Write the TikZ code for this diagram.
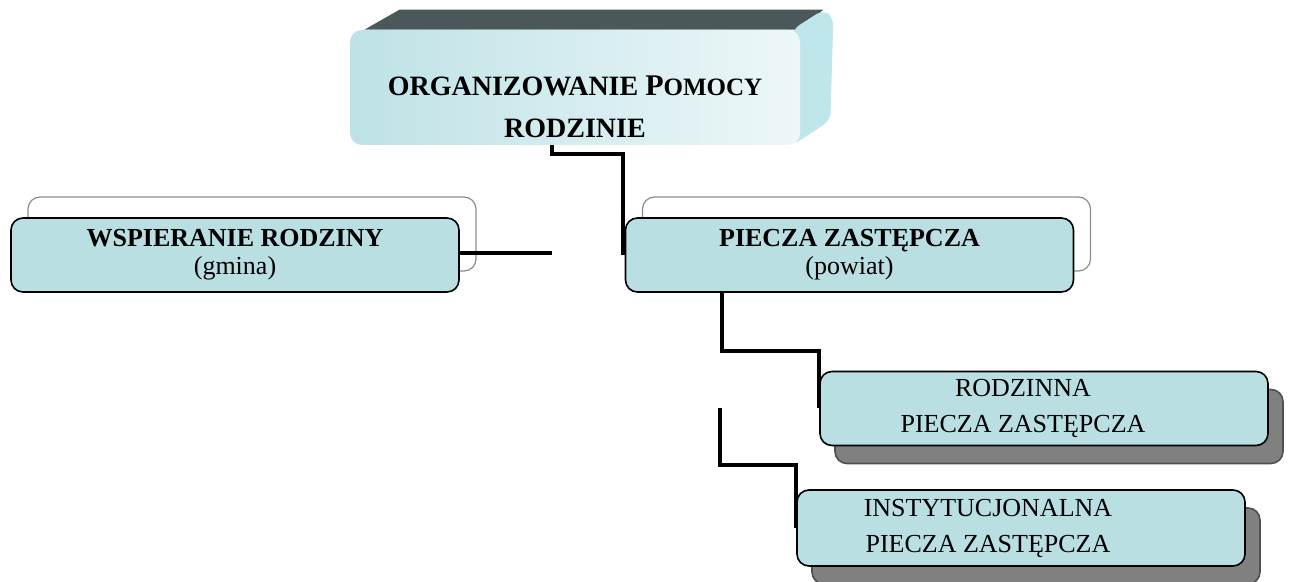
\documentclass[tikz,border=0pt]{standalone}
\usepackage{fontspec}
\setmainfont{Liberation Serif}
\usetikzlibrary{positioning,shadows,backgrounds}
\definecolor{boxfill}{HTML}{B9DFE2}
\definecolor{backline}{HTML}{8C8C8C}
\definecolor{shadowgray}{HTML}{808080}
\definecolor{shadowline}{HTML}{505050}
\definecolor{titleA}{HTML}{BEE2E6}
\definecolor{titleB}{HTML}{EDF7F8}
\definecolor{topface}{HTML}{4B5859}
\definecolor{sideface}{HTML}{BFE6EA}

\begin{document}
\begin{tikzpicture}[x=0.5pt,y=-0.5pt,
    box/.style={draw=black, line width=0.8pt, rounded corners=6pt, fill=boxfill, minimum width=224pt, minimum height=37pt, align=center, inner sep=2pt, font=\fontsize{13}{14}\selectfont},
    backbox/.style={box, copy shadow={shadow xshift=8.5pt, shadow yshift=10.5pt, fill=white, draw=backline, line width=0.6pt}},
    dropbox/.style={box, font=\fontsize{13}{18}\selectfont, drop shadow={shadow xshift=7.5pt, shadow yshift=-9pt, fill=shadowgray, draw=shadowline, opacity=1}},
    link/.style={line width=2pt, black}]
    \useasboundingbox (0,0) rectangle (1290,582);

    \node[rounded corners=6pt, left color=titleA, right color=titleB, minimum width=225pt, minimum height=57.5pt, align=center, inner sep=2pt, font=\fontsize{14}{21}\selectfont\bfseries] (title) at (575,87.5)
        {\rule{0pt}{29pt}ORGANIZOWANIE {\fontsize{15}{21}\selectfont P}{\fontsize{12.5}{21}\selectfont OMOCY}\\RODZINIE};
    \begin{scope}[on background layer]
        \fill[topface] ([shift={(15,0)}]title.north west) -- ([shift={(50,-20)}]title.north west) -- ([shift={(23,-20)}]title.north east) -- ([shift={(0,0)}]title.north east) -- cycle;
        \fill[sideface, rounded corners=4pt] ([shift={(-8,0)}]title.north east) -- ([shift={(23,-20)}]title.north east) -- ([shift={(33,-12)}]title.north east) -- ([shift={(30,-25)}]title.south east) -- ([shift={(-8,0)}]title.south east) -- cycle;
    \end{scope}

    \node[backbox] (wsp) at (235,255) {\textbf{WSPIERANIE RODZINY}\\(gmina)};
    \node[backbox] (piecza) at (849.5,255) {\textbf{PIECZA ZASTĘPCZA}\\(powiat)};
    \node[dropbox] (rodz) at (1044,408.5) {RODZINNA\hspace{21pt}\mbox{}\\PIECZA ZASTĘPCZA\hspace{21pt}\mbox{}};
    \node[dropbox, minimum height=38pt] (inst) at (1021,528) {INSTYTUCJONALNA\hspace{33pt}\mbox{}\\PIECZA ZASTĘPCZA\hspace{33pt}\mbox{}};

    \coordinate (wspend) at (552,253);
    \coordinate (split) at (720,408);

    \draw[link] ([xshift=-11.5pt]title.south) -- ++(0,9) -| ([xshift=-1pt]piecza.west);
    \draw[link] (wsp.east |- wspend) -- (wspend);
    \draw[link] ([xshift=-64pt]piecza.south) -- ++(0,58) -| (rodz.west);
    \draw[link] (split) -- ++(0,57) -| (inst.west);
\end{tikzpicture}
\end{document}
